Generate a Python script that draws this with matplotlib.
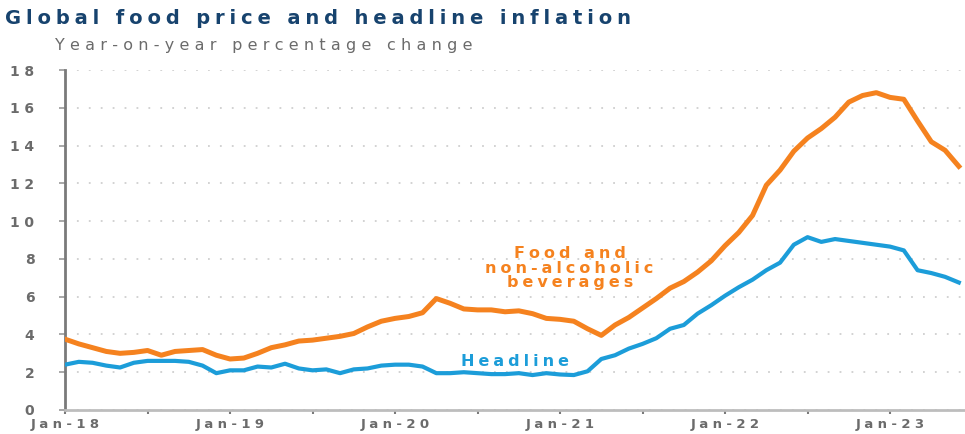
import numpy as np
import matplotlib
matplotlib.use('Agg')
import matplotlib.pyplot as plt

# monthly series, Jan-18 .. Jun-23
months = np.arange(66)
food = [3.75, 3.5, 3.3, 3.1, 3.0, 3.05, 3.15, 2.9, 3.1, 3.15, 3.2, 2.9,
        2.7, 2.75, 3.0, 3.3, 3.45, 3.65, 3.7, 3.8, 3.9, 4.05, 4.4, 4.7,
        4.85, 4.95, 5.15, 5.9, 5.65, 5.35, 5.3, 5.3, 5.2, 5.25, 5.1, 4.85,
        4.8, 4.7, 4.3, 3.95, 4.5, 4.9, 5.4, 5.9, 6.45, 6.8, 7.3, 7.9,
        8.7, 9.4, 10.3, 11.9, 12.7, 13.7, 14.4, 14.9, 15.5, 16.3, 16.65, 16.8,
        16.55, 16.45, 15.3, 14.2, 13.75, 12.9]
headline = [2.4, 2.55, 2.5, 2.35, 2.25, 2.5, 2.6, 2.6, 2.6, 2.55, 2.35, 1.95,
            2.1, 2.1, 2.3, 2.25, 2.45, 2.2, 2.1, 2.15, 1.95, 2.15, 2.2, 2.35,
            2.4, 2.4, 2.3, 1.95, 1.95, 2.0, 1.95, 1.9, 1.9, 1.95, 1.85, 1.95,
            1.88, 1.85, 2.05, 2.7, 2.9, 3.25, 3.5, 3.8, 4.3, 4.5, 5.1, 5.55,
            6.05, 6.5, 6.9, 7.4, 7.8, 8.75, 9.15, 8.9, 9.05, 8.95, 8.85, 8.75,
            8.65, 8.45, 7.4, 7.25, 7.05, 6.75]
year_labels = ['Jan-18', 'Jan-19', 'Jan-20', 'Jan-21', 'Jan-22', 'Jan-23']
y_ticks = list(range(0, 19, 2))

orange = '#F5821F'
blue = '#1C9DD9'
grey = '#6b6b6b'


def spaced(s, gap='\u2004'):
    """wide letter spacing, line by line"""
    return '\n'.join(gap.join(line) for line in s.split('\n'))


fig = plt.figure(figsize=(9.65, 4.34), dpi=100)
ax = fig.add_axes([0.0674, 0.0553, 0.9326, 0.7834])

ax.plot(months, food, color=orange, lw=3.6, solid_joinstyle='round', zorder=3)
ax.plot(months, headline, color=blue, lw=3.0, solid_joinstyle='round', zorder=3)

ax.set_xlim(0, 65.45)
ax.set_ylim(0, 18)
ax.set_yticks(y_ticks)
ax.set_yticklabels([spaced(str(v)) for v in y_ticks])
ax.yaxis.grid(True, color='#cfcfcf', linestyle=(0, (1, 5.6)), lw=1.3)
ax.set_axisbelow(True)

ax.set_xticks(np.arange(0, 66, 12))
ax.set_xticklabels([spaced(s) for s in year_labels])
ax.set_xticks(np.arange(6, 66, 12), minor=True)

for s in ['top', 'right']:
    ax.spines[s].set_visible(False)
ax.spines['left'].set_color('#7a7a7a')
ax.spines['left'].set_linewidth(2.0)
ax.spines['bottom'].set_color('#bdbdbd')
ax.spines['bottom'].set_linewidth(2.0)

ax.tick_params(axis='y', length=4, width=1.2, color='#9a9a9a', pad=18,
               labelsize=10, labelcolor=grey)
ax.tick_params(axis='x', which='both', length=3, width=1.5, color='#7a7a7a',
               direction='out', pad=2.5, labelsize=9.5, labelcolor=grey)
for lab in ax.get_xticklabels() + ax.get_yticklabels():
    lab.set_fontweight('bold')

fig.text(0.005, 0.957, spaced('Global food price and headline inflation', '\u2005'),
         fontsize=14, fontweight='bold', color='#17436e', va='center', ha='left')
fig.text(0.057, 0.896, spaced('Year-on-year percentage change'), fontsize=11.5,
         color=grey, va='center', ha='left')

ax.text(36.7, 7.5, spaced('Food and\nnon-alcoholic\nbeverages', '\u2005'),
        color=orange, fontsize=11.5, fontweight='bold', ha='center',
        va='center', linespacing=0.95)
ax.text(32.7, 2.55, spaced('Headline', '\u2005'), color=blue, fontsize=11.5,
        fontweight='bold', ha='center', va='center')

fig.savefig('out.png', dpi=100)
